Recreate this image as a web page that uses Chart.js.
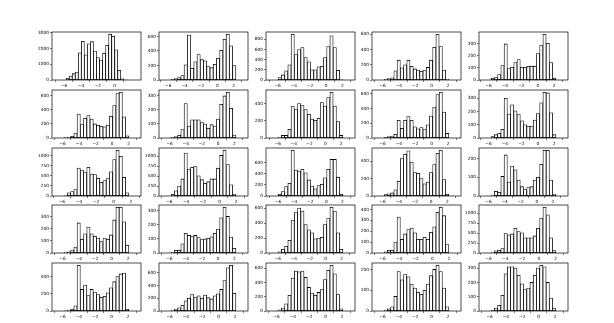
<!DOCTYPE html>
<html>
<head>
<meta charset="utf-8">
<script src="https://cdn.jsdelivr.net/npm/chart.js@4.4.0/dist/chart.umd.min.js"></script>
<style>
  body { margin: 0; background: #fff; }
  #fig { position: relative; width: 614px; height: 323px; overflow: hidden; }
  #fig canvas { position: absolute; }
</style>
</head>
<body>
<div id="fig"></div>
<script>
// histogram counts, 20 bins per panel, read row by row
const h11 = [100, 250, 400, 500, 1720, 2450, 1600, 2300, 2430, 1830, 1420, 1270, 1700, 2200, 2900, 2780, 1920, 620, 80, 5];
const h12 = [10, 20, 35, 60, 210, 620, 160, 250, 350, 280, 265, 185, 170, 215, 300, 410, 560, 630, 470, 200];
const h13 = [50, 100, 180, 300, 900, 500, 600, 640, 440, 360, 200, 200, 260, 270, 440, 660, 870, 640, 190, 10];
const h14 = [10, 20, 30, 120, 260, 160, 200, 260, 180, 145, 130, 115, 130, 165, 260, 430, 600, 440, 130, 10];
const h15 = [15, 20, 45, 120, 300, 95, 105, 145, 170, 105, 105, 115, 115, 115, 220, 290, 380, 305, 145, 15];

const h21 = [5, 10, 25, 70, 340, 190, 280, 320, 270, 200, 180, 165, 160, 185, 310, 460, 640, 650, 300, 30];
const h22 = [5, 10, 20, 60, 245, 85, 130, 130, 130, 110, 100, 70, 95, 85, 135, 240, 300, 326, 212, 21];
const h23 = [10, 30, 30, 100, 370, 330, 400, 375, 330, 275, 220, 205, 230, 410, 370, 470, 530, 370, 190, 30];
const h24 = [10, 20, 25, 50, 240, 130, 240, 290, 240, 150, 125, 140, 120, 178, 298, 418, 587, 618, 351, 62];
const h25 = [10, 25, 35, 65, 300, 180, 250, 205, 180, 130, 100, 90, 90, 135, 185, 265, 345, 340, 190, 25];

const h31 = [10, 80, 110, 160, 690, 640, 580, 710, 540, 530, 440, 340, 380, 430, 600, 900, 1130, 980, 460, 80];
const h32 = [40, 130, 250, 430, 1080, 680, 720, 740, 510, 410, 320, 360, 430, 430, 700, 1020, 1150, 790, 280, 50];
const h33 = [30, 80, 170, 230, 825, 470, 450, 480, 420, 290, 180, 130, 190, 210, 330, 480, 660, 660, 340, 30];
const h34 = [15, 25, 35, 70, 170, 430, 480, 520, 390, 270, 260, 200, 140, 160, 270, 360, 490, 525, 190, 20];
const h35 = [5, 25, 20, 105, 220, 75, 160, 140, 85, 50, 35, 45, 50, 85, 100, 170, 245, 245, 85, 10];

const h41 = [5, 10, 25, 50, 250, 115, 160, 215, 160, 140, 125, 95, 125, 115, 150, 275, 380, 380, 260, 65];
const h42 = [5, 20, 20, 65, 140, 125, 120, 125, 110, 95, 100, 105, 115, 140, 170, 250, 325, 260, 113, 34];
const h43 = [15, 50, 90, 170, 440, 540, 600, 560, 380, 310, 270, 190, 200, 210, 380, 460, 610, 560, 270, 50];
const h44 = [10, 25, 25, 100, 330, 125, 175, 215, 230, 185, 125, 125, 145, 125, 190, 240, 375, 420, 343, 77];
const h45 = [10, 55, 70, 110, 490, 460, 480, 620, 540, 510, 380, 380, 380, 430, 620, 880, 1150, 960, 380, 60];

const h51 = [5, 10, 20, 60, 530, 250, 300, 180, 250, 220, 190, 160, 170, 210, 270, 340, 400, 430, 440, 20];
const h52 = [10, 30, 50, 90, 160, 200, 260, 220, 240, 200, 250, 210, 190, 240, 270, 340, 480, 680, 720, 280];
const h53 = [15, 40, 100, 220, 460, 560, 550, 560, 470, 330, 250, 220, 260, 300, 440, 570, 640, 520, 230, 30];
const h54 = [5, 10, 20, 70, 190, 150, 175, 165, 130, 110, 90, 80, 100, 130, 170, 200, 220, 190, 110, 20];
const h55 = [5, 20, 40, 110, 260, 310, 310, 300, 250, 190, 150, 160, 200, 250, 300, 320, 310, 200, 90, 20];

const counts = [h11, h12, h13, h14, h15, h21, h22, h23, h24, h25, h31, h32, h33, h34, h35,
                h41, h42, h43, h44, h45, h51, h52, h53, h54, h55];

// lowest and highest bin edge of each panel
const binLo = [-5.76, -5.65, -5.93, -5.8, -5.68,
               -5.8, -5.8, -5.97, -5.8, -5.68,
               -5.74, -5.79, -5.98, -5.8, -5.67,
               -5.8, -5.79, -5.95, -5.8, -5.69,
               -5.8, -5.8, -5.8, -5.8, -5.8];
const binHi = [1.45, 2.26, 2.06, 2.1, 2.2,
               2.03, 2.2, 2.22, 2.1, 2.2,
               1.78, 1.96, 2.05, 2.2, 2.37,
               2.1, 2.17, 2.15, 2.0, 2.04,
               2.1, 2.1, 2.1, 2.1, 2.1];

const xTicks = [-6, -4, -2, 0, 2];
const yTicks = [
  [0, 1000, 2000, 3000], [0, 200, 400, 600], [0, 200, 400, 600, 800], [0, 200, 400, 600], [0, 100, 200, 300, 400],
  [0, 200, 400, 600], [0, 100, 200, 300], [0, 200, 400], [0, 200, 400, 600], [0, 100, 200, 300],
  [0, 250, 500, 750, 1000], [0, 250, 500, 750, 1000], [0, 200, 400, 600], [0, 200, 400], [0, 100, 200],
  [0, 100, 200, 300], [0, 100, 200, 300], [0, 200, 400, 600], [0, 100, 200, 300, 400], [0, 250, 500, 750, 1000],
  [0, 200, 400], [0, 200, 400, 600], [0, 200, 400, 600], [0, 100, 200], [0, 100, 200, 300]
];

const AX_LEFT = 52, AX_STEP_X = 106.75, AX_TOP = 32, AX_STEP_Y = 57.75;
const AX_W = 89, AX_H = 48;
const PADL = 28, PADT = 4, PADR = 8, PADB = 12;

const fmt = v => (v < 0 ? "\u2212" + Math.abs(v) : String(v));
const tickFont = { family: "DejaVu Sans", size: 4.3 };

const frame = {
  id: "frame",
  afterDraw(chart) {
    const a = chart.chartArea, c = chart.ctx;
    c.save();
    c.strokeStyle = "#000";
    c.lineWidth = 0.7;
    c.strokeRect(a.left, a.top, a.right - a.left, a.bottom - a.top);
    c.restore();
  }
};

const fig = document.getElementById("fig");

for (let i = 0; i < counts.length; i++) {
  const row = Math.floor(i / 5), col = i % 5;
  const cv = document.createElement("canvas");
  cv.width = PADL + AX_W + PADR;
  cv.height = PADT + AX_H + PADB;
  cv.style.left = Math.round(AX_LEFT + col * AX_STEP_X) - PADL + "px";
  cv.style.top = Math.round(AX_TOP + row * AX_STEP_Y) - PADT + "px";
  fig.appendChild(cv);

  const vals = counts[i];
  const lo = binLo[i], hi = binHi[i];
  const bw = (hi - lo) / vals.length;
  const pts = vals.map((v, k) => ({ x: lo + bw * (k + 0.5), y: v }));
  const margin = 0.05 * (hi - lo);
  const ymax = Math.max(...vals) * 1.05;
  const yt = yTicks[i];

  new Chart(cv, {
    type: "bar",
    data: {
      datasets: [{
        data: pts,
        backgroundColor: "#fff",
        borderColor: "#000",
        borderWidth: 0.8,
        borderSkipped: false,
        barPercentage: 1,
        categoryPercentage: 1
      }]
    },
    options: {
      responsive: false,
      animation: false,
      devicePixelRatio: 1,
      layout: { padding: { left: 0, top: PADT, right: PADR, bottom: 0 } },
      plugins: { legend: { display: false }, tooltip: { enabled: false } },
      scales: {
        x: {
          type: "linear",
          min: lo - margin,
          max: hi + margin,
          afterBuildTicks: s => {
            s.ticks = xTicks.filter(v => v >= s.min && v <= s.max).map(v => ({ value: v }));
          },
          afterFit: s => { s.height = PADB; },
          ticks: { font: tickFont, color: "#000", padding: 1, maxRotation: 0, autoSkip: false, callback: fmt },
          grid: { drawOnChartArea: false, tickLength: 2, color: "#000", lineWidth: 0.5 },
          border: { display: false }
        },
        y: {
          min: 0,
          max: ymax,
          afterBuildTicks: s => {
            s.ticks = yt.filter(v => v <= s.max).map(v => ({ value: v }));
          },
          afterFit: s => { s.width = PADL; },
          ticks: { font: tickFont, color: "#000", padding: 1, autoSkip: false, callback: fmt },
          grid: { drawOnChartArea: false, tickLength: 2, color: "#000", lineWidth: 0.5 },
          border: { display: false }
        }
      }
    },
    plugins: [frame]
  });
}
</script>
</body>
</html>
